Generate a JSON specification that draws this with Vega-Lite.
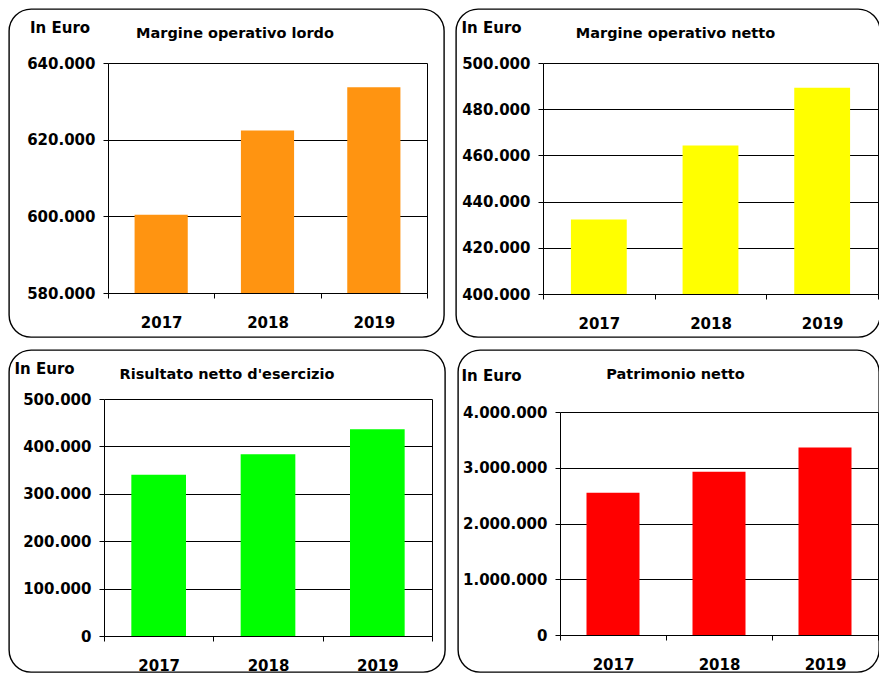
{
  "$schema": "https://vega.github.io/schema/vega-lite/v6.json",
  "padding": {"left": 8, "top": 8, "right": 0, "bottom": 0},
  "background": "white",
  "config": {
    "view": {"stroke": "#000000", "strokeWidth": 1.4, "cornerRadius": 22},
    "font": "DejaVu Sans",
    "title": {"font": "DejaVu Sans", "fontSize": 14.5, "fontWeight": "bold", "color": "#000000", "anchor": "middle", "frame": "group", "baseline": "alphabetic", "offset": 0},
    "axis": {"labelFont": "DejaVu Sans", "labelFontSize": 15, "labelFontWeight": "bold", "labelColor": "#000000", "domainColor": "#000000", "tickColor": "#000000", "gridColor": "#000000", "domainWidth": 1, "tickWidth": 1, "gridWidth": 1, "titleFont": "DejaVu Sans", "titleFontSize": 15, "titleFontWeight": "bold", "titleColor": "#000000"}
  },
  "vconcat": [
    {
      "hconcat": [
        {
          "width": 435, "height": 328,
          "title": {"text": "Margine operativo lordo", "dx": 8.5, "dy": 36},
          "data": {"values": [{"anno": "2017", "valore": 600400}, {"anno": "2018", "valore": 622400}, {"anno": "2019", "valore": 633700}]},
          "layer": [
            {
              "mark": {"type": "bar", "color": "#FF9411", "width": {"band": 0.5}},
              "encoding": {
                "x": {"field": "anno", "type": "ordinal", "scale": {"range": [99, 418], "paddingInner": 0, "paddingOuter": 0},
                  "axis": {"title": null, "orient": "bottom", "offset": -44, "tickBand": "extent", "tickSize": 5, "labelAngle": 0, "labelPadding": 17, "grid": false}},
                "y": {"field": "valore", "type": "quantitative", "scale": {"domain": [580000, 640000], "range": [284, 54], "nice": false, "zero": false},
                  "axis": {"orient": "left", "offset": -99, "values": [580000, 600000, 620000, 640000], "tickSize": 5, "labelPadding": 8, "grid": true, "labelFlush": false, "labelOverlap": false,
                    "labelExpr": "replace(format(datum.value, ','), regexp(',', 'g'), '.')",
                    "title": "In Euro", "titleAngle": 0, "titleAlign": "left", "titleBaseline": "alphabetic", "titleX": -78.5, "titleY": 23}},
                "y2": {"datum": 580000}
              }
            },
            {
              "mark": {"type": "rule", "opacity": 0},
              "encoding": {
                "y": {"field": "valore", "type": "quantitative", "axis": {"orient": "right", "offset": -17, "labels": false, "ticks": false, "grid": false, "domain": true, "title": null}}
              }
            }
          ],
          "resolve": {"axis": {"y": "independent"}}
        },
        {
          "width": 424, "height": 328,
          "title": {"text": "Margine operativo netto", "dx": 7.5, "dy": 36},
          "data": {"values": [{"anno": "2017", "valore": 432200}, {"anno": "2018", "valore": 464300}, {"anno": "2019", "valore": 489300}]},
          "layer": [
            {
              "mark": {"type": "bar", "color": "#FFFF00", "width": {"band": 0.5}},
              "encoding": {
                "x": {"field": "anno", "type": "ordinal", "scale": {"range": [87, 422], "paddingInner": 0, "paddingOuter": 0},
                  "axis": {"title": null, "orient": "bottom", "offset": -43, "tickBand": "extent", "tickSize": 5, "labelAngle": 0, "labelPadding": 17, "grid": false}},
                "y": {"field": "valore", "type": "quantitative", "scale": {"domain": [400000, 500000], "range": [285, 54], "nice": false, "zero": false},
                  "axis": {"orient": "left", "offset": -87, "values": [400000, 420000, 440000, 460000, 480000, 500000], "tickSize": 5, "labelPadding": 8, "grid": true, "labelFlush": false, "labelOverlap": false,
                    "labelExpr": "replace(format(datum.value, ','), regexp(',', 'g'), '.')",
                    "title": "In Euro", "titleAngle": 0, "titleAlign": "left", "titleBaseline": "alphabetic", "titleX": -82, "titleY": 23}},
                "y2": {"datum": 400000}
              }
            },
            {
              "mark": {"type": "rule", "opacity": 0},
              "encoding": {
                "y": {"field": "valore", "type": "quantitative", "axis": {"orient": "right", "offset": -2, "labels": false, "ticks": false, "grid": false, "domain": true, "title": null}}
              }
            }
          ],
          "resolve": {"axis": {"y": "independent"}}
        }
      ],
      "spacing": 10
    },
    {
      "hconcat": [
        {
          "width": 436, "height": 322,
          "title": {"text": "Risultato netto d'esercizio", "dx": 0, "dy": 36},
          "data": {"values": [{"anno": "2017", "valore": 340000}, {"anno": "2018", "valore": 383700}, {"anno": "2019", "valore": 436000}]},
          "layer": [
            {
              "mark": {"type": "bar", "color": "#00FF00", "width": {"band": 0.5}},
              "encoding": {
                "x": {"field": "anno", "type": "ordinal", "scale": {"range": [95, 423], "paddingInner": 0, "paddingOuter": 0},
                  "axis": {"title": null, "orient": "bottom", "offset": -36, "tickBand": "extent", "tickSize": 5, "labelAngle": 0, "labelPadding": 17, "grid": false}},
                "y": {"field": "valore", "type": "quantitative", "scale": {"domain": [0, 500000], "range": [286, 49], "nice": false, "zero": false},
                  "axis": {"orient": "left", "offset": -95, "values": [0, 100000, 200000, 300000, 400000, 500000], "tickSize": 5, "labelPadding": 8, "grid": true, "labelFlush": false, "labelOverlap": false,
                    "labelExpr": "replace(format(datum.value, ','), regexp(',', 'g'), '.')",
                    "title": "In Euro", "titleAngle": 0, "titleAlign": "left", "titleBaseline": "alphabetic", "titleX": -90, "titleY": 23}},
                "y2": {"datum": 0}
              }
            },
            {
              "mark": {"type": "rule", "opacity": 0},
              "encoding": {
                "y": {"field": "valore", "type": "quantitative", "axis": {"orient": "right", "offset": -13, "labels": false, "ticks": false, "grid": false, "domain": true, "title": null}}
              }
            }
          ],
          "resolve": {"axis": {"y": "independent"}}
        },
        {
          "width": 421, "height": 322,
          "title": {"text": "Patrimonio netto", "dx": 7, "dy": 36},
          "data": {"values": [{"anno": "2017", "valore": 2552000}, {"anno": "2018", "valore": 2930000}, {"anno": "2019", "valore": 3365000}]},
          "layer": [
            {
              "mark": {"type": "bar", "color": "#FF0000", "width": {"band": 0.5}},
              "encoding": {
                "x": {"field": "anno", "type": "ordinal", "scale": {"range": [102, 420], "paddingInner": 0, "paddingOuter": 0},
                  "axis": {"title": null, "orient": "bottom", "offset": -37, "tickBand": "extent", "tickSize": 5, "labelAngle": 0, "labelPadding": 17, "grid": false}},
                "y": {"field": "valore", "type": "quantitative", "scale": {"domain": [0, 4000000], "range": [285, 62], "nice": false, "zero": false},
                  "axis": {"orient": "left", "offset": -102, "values": [0, 1000000, 2000000, 3000000, 4000000], "tickSize": 5, "labelPadding": 8, "grid": true, "labelFlush": false, "labelOverlap": false,
                    "labelExpr": "replace(format(datum.value, ','), regexp(',', 'g'), '.')",
                    "title": "In Euro", "titleAngle": 0, "titleAlign": "left", "titleBaseline": "alphabetic", "titleX": -99, "titleY": 30}},
                "y2": {"datum": 0}
              }
            },
            {
              "mark": {"type": "rule", "opacity": 0},
              "encoding": {
                "y": {"field": "valore", "type": "quantitative", "axis": {"orient": "right", "offset": -1, "labels": false, "ticks": false, "grid": false, "domain": true, "title": null}}
              }
            }
          ],
          "resolve": {"axis": {"y": "independent"}}
        }
      ],
      "spacing": 11
    }
  ],
  "spacing": 11
}
